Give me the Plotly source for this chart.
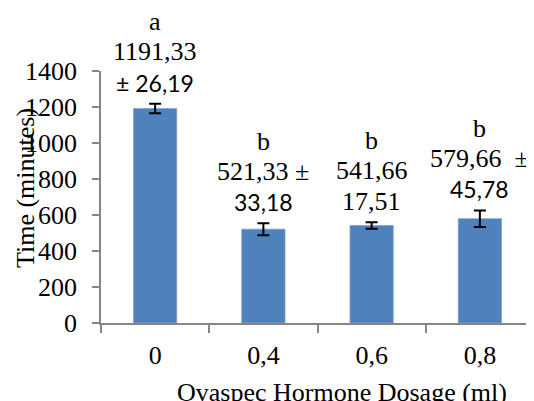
import plotly.graph_objects as go

categories = ["0", "0,4", "0,6", "0,8"]
means = [1191.33, 521.33, 541.66, 579.66]
sems = [26.19, 33.18, 17.51, 45.78]
letters = ["a", "b", "b", "b"]
mean_labels = ["1191,33", "521,33 ±", "541,66", "579,66  ±"]
sem_labels = ["± 26,19", "33,18", "17,51", "45,78"]
sem_label_sans = [True, True, False, True]
y_ticks = [0, 200, 400, 600, 800, 1000, 1200, 1400]

SERIF = "Liberation Serif"
SANS = "Lato"
BLUE = "#4F81BD"
AXIS = "#868686"

fig = go.Figure()
fig.add_trace(go.Bar(
    x=categories, y=means,
    marker=dict(color=BLUE, line=dict(color="#7FA3D1", width=0.8)),
    error_y=dict(type="data", array=sems, visible=True, color="black",
                 thickness=2, width=6),
    width=0.4,
))

annotations = []
for i, cat in enumerate(categories):
    top = means[i] + sems[i]
    lines = [
        (letters[i], SERIF, 26, 82),
        (mean_labels[i], SERIF, 26, 52),
        (sem_labels[i], SANS if sem_label_sans[i] else SERIF,
         23 if sem_label_sans[i] else 26, 21),
    ]
    for text, fam, size, shift in lines:
        annotations.append(dict(
            x=cat, y=top, xref="x", yref="y", text=text, showarrow=False,
            yanchor="middle", xanchor="center", yshift=shift,
            font=dict(family=fam, size=size, color="black"),
        ))

annotations.append(dict(
    text="Time (minutes)", xref="paper", yref="paper",
    x=-0.173, y=0.536, textangle=-90, showarrow=False,
    xanchor="center", yanchor="middle",
    font=dict(family=SERIF, size=26, color="black"),
))
annotations.append(dict(
    text="Ovaspec Hormone Dosage (ml)", xref="paper", yref="paper",
    x=0.556, y=-0.274, showarrow=False,
    xanchor="center", yanchor="middle",
    font=dict(family=SERIF, size=26, color="black"),
))

fig.update_layout(
    width=526, height=393,
    margin=dict(l=93, r=0, t=63, b=78, autoexpand=False),
    paper_bgcolor="white", plot_bgcolor="white",
    showlegend=False,
    annotations=annotations,
    xaxis=dict(
        type="category", tickson="boundaries", ticks="outside", ticklen=8,
        tickcolor=AXIS, tickwidth=1.5, showline=True, linecolor=AXIS,
        linewidth=1.5, showgrid=False, automargin=False,
        tickfont=dict(family=SERIF, size=26, color="black"),
        ticklabelstandoff=8,
    ),
    yaxis=dict(
        range=[0, 1400], tickvals=y_ticks, ticks="outside", ticklen=7,
        tickcolor=AXIS, tickwidth=1.5, showline=True, linecolor=AXIS,
        linewidth=1.5, showgrid=False, zeroline=False, automargin=False,
        tickfont=dict(family=SERIF, size=26, color="black"),
        ticklabelstandoff=10,
    ),
)

fig.write_html("out.html")
